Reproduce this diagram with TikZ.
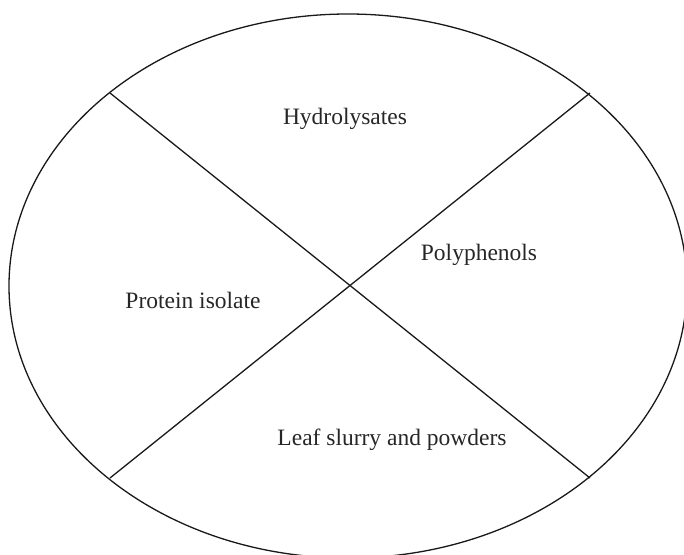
\documentclass[tikz,border=0pt]{standalone}
\usepackage{fontspec}
\setmainfont{Liberation Serif}
\begin{document}
\begin{tikzpicture}[x=1pt,y=-1pt,
  outline/.style={draw=black!90,line width=1.3pt},
  label/.style={inner sep=0pt,anchor=base,font=\fontsize{23.5}{28}\selectfont,text=black!85}]
\useasboundingbox (0,0) rectangle (684,554);
\draw[outline] (348,286) ellipse [x radius=339, y radius=272];
\coordinate (tl) at (110,93);
\coordinate (tr) at (590,93);
\coordinate (bl) at (110,478);
\coordinate (br) at (590,478);
\draw[outline] (tl) -- (br);
\draw[outline] (tr) -- (bl);
\node[label] (hyd) at (345,124) {Hydrolysates};
\node[label] (poly) at (479,260) {Polyphenols};
\node[label] (prot) at (193,308) {Protein isolate};
\node[label] (leaf) at (392,445) {Leaf slurry and powders};
\end{tikzpicture}
\end{document}
